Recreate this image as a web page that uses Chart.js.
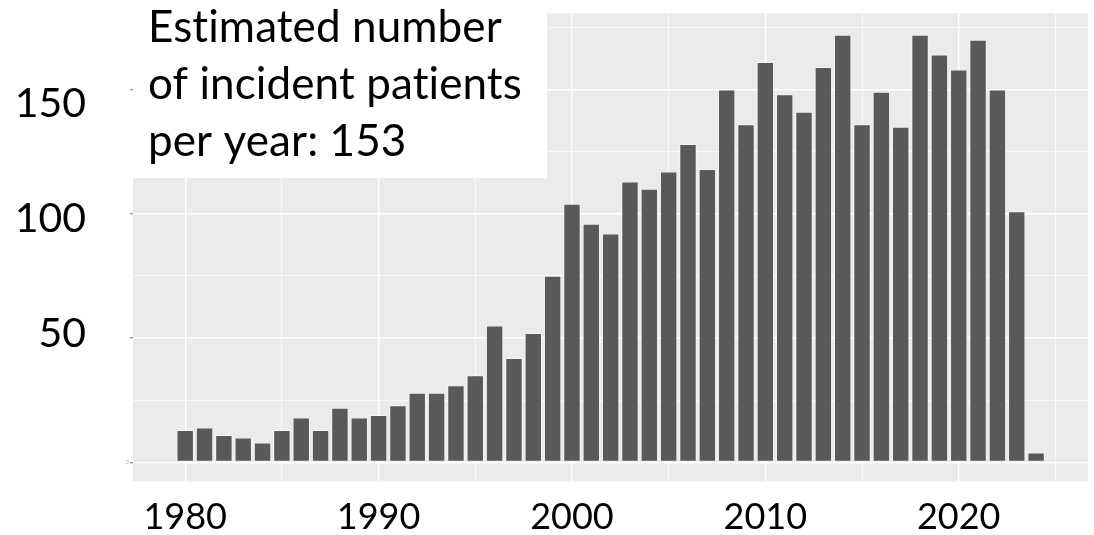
<!DOCTYPE html>
<html>
<head>
<meta charset="utf-8">
<script src="https://cdn.jsdelivr.net/npm/chart.js@4.4.1/dist/chart.umd.min.js"></script>
<style>
  html, body { margin: 0; padding: 0; background: #fff; }
  #wrap { width: 1094px; height: 535px; }
</style>
</head>
<body>
<div id="wrap"><canvas id="canvasIncidence"></canvas></div>
<script>
// data
var years = [1980, 1981, 1982, 1983, 1984, 1985, 1986, 1987, 1988, 1989,
             1990, 1991, 1992, 1993, 1994, 1995, 1996, 1997, 1998, 1999,
             2000, 2001, 2002, 2003, 2004, 2005, 2006, 2007, 2008, 2009,
             2010, 2011, 2012, 2013, 2014, 2015, 2016, 2017, 2018, 2019,
             2020, 2021, 2022, 2023, 2024];
var patients = [13, 14, 11, 10, 8, 13, 18, 13, 22, 18,
                19, 23, 28, 28, 31, 35, 55, 42, 52, 75,
                104, 96, 92, 113, 110, 117, 128, 118, 150, 136,
                161, 148, 141, 159, 172, 136, 149, 135, 172, 164,
                158, 170, 150, 101, 4];
var xGrid = [1980, 1985, 1990, 1995, 2000, 2005, 2010, 2015, 2020, 2025];
var xLabels = [1980, 1990, 2000, 2010, 2020];
var yGrid = [0, 25, 50, 75, 100, 125, 150, 175];
var yLabels = [50, 100, 150];
var noteLines = ['Estimated number', 'of incident patients', 'per year: 153'];

var points = [];
for (var i in years) {
  points.push({ x: years[i], y: patients[i] });
}

// grey ggplot-like panel behind the grid
var panelBg = {
  id: 'panelBg',
  beforeDraw: function(chart) {
    var a = chart.chartArea, ctx = chart.ctx;
    ctx.save();
    ctx.fillStyle = '#EBEBEB';
    ctx.fillRect(a.left, a.top, a.right - a.left, a.bottom - a.top);
    ctx.restore();
  }
};

// white note box in the top left corner
var noteBox = {
  id: 'noteBox',
  afterDraw: function(chart) {
    var a = chart.chartArea, ctx = chart.ctx;
    ctx.save();
    ctx.fillStyle = '#fff';
    ctx.fillRect(a.left, 0, 547 - a.left, 178);
    ctx.fillStyle = '#000';
    ctx.font = '44px Lato';
    ctx.letterSpacing = '0.1px'; // keeps "ti" from turning into a ligature
    ctx.textBaseline = 'alphabetic';
    for (var i = 0; i < noteLines.length; i++) {
      ctx.fillText(noteLines[i], 148, 42 + i * 57);
    }
    ctx.restore();
  }
};

function noPad(s) {
  s.paddingTop = 0; s.paddingBottom = 0; s.paddingLeft = 0; s.paddingRight = 0;
}

var ctx = document.getElementById('canvasIncidence');

var barGraph = new Chart(ctx, {
  type: 'bar',
  data: {
    datasets: [{
      label: 'Patients',
      data: points,
      backgroundColor: '#595959',
      borderColor: 'rgba(255, 255, 255, 0.55)',
      borderWidth: 1,
      borderSkipped: false,
      barPercentage: 0.9,
      categoryPercentage: 1.0
    }]
  },
  options: {
    responsive: true,
    maintainAspectRatio: false,
    animation: false,
    layout: { padding: { left: 0, right: 5.7, top: 13.3, bottom: 0 } },
    plugins: { legend: { display: false }, tooltip: { enabled: false } },
    scales: {
      x: {
        type: 'linear',
        offset: false,
        min: 1977.3,
        max: 2026.7,
        afterBuildTicks: function(s) { s.ticks = xGrid.map(function(v) { return { value: v }; }); },
        afterFit: function(s) { s.height = 53.5; noPad(s); },
        grid: {
          offset: false,
          color: '#fff',
          lineWidth: function(c) { return c.tick && xLabels.indexOf(c.tick.value) >= 0 ? 1.4 : 0.7; },
          drawTicks: false
        },
        border: { display: false },
        ticks: {
          autoSkip: false,
          maxRotation: 0,
          padding: 14,
          color: '#000',
          font: { family: 'Lato', size: 36 },
          callback: function(v) { return xLabels.indexOf(v) >= 0 ? String(v) : ''; }
        }
      },
      y: {
        weight: 0,
        min: -7.7,
        max: 180.6,
        afterBuildTicks: function(s) { s.ticks = yGrid.map(function(v) { return { value: v }; }); },
        afterFit: function(s) { s.width = 13; noPad(s); },
        grid: {
          color: '#fff',
          lineWidth: function(c) { return c.tick && c.tick.value % 50 === 0 ? 1.4 : 0.7; },
          tickLength: 3,
          tickColor: function(c) { return c.tick && c.tick.value % 50 === 0 ? '#9a9a9a' : 'rgba(0,0,0,0)'; }
        },
        border: { display: false },
        ticks: {
          autoSkip: false,
          padding: 1,
          color: '#9a9a9a',
          font: { family: 'Lato', size: 5 },
          callback: function(v) { return v === 0 ? '0' : ''; }
        }
      },
      yBig: {
        position: 'left',
        weight: 10,
        min: -14.43,
        max: 189.13,
        afterBuildTicks: function(s) { s.ticks = yLabels.map(function(v) { return { value: v }; }); },
        afterFit: function(s) { s.width = 120; noPad(s); },
        grid: { display: false },
        border: { display: false },
        ticks: {
          padding: 26,
          color: '#000',
          font: { family: 'Lato', size: 41 }
        }
      }
    }
  },
  plugins: [panelBg, noteBox]
});
</script>
</body>
</html>
